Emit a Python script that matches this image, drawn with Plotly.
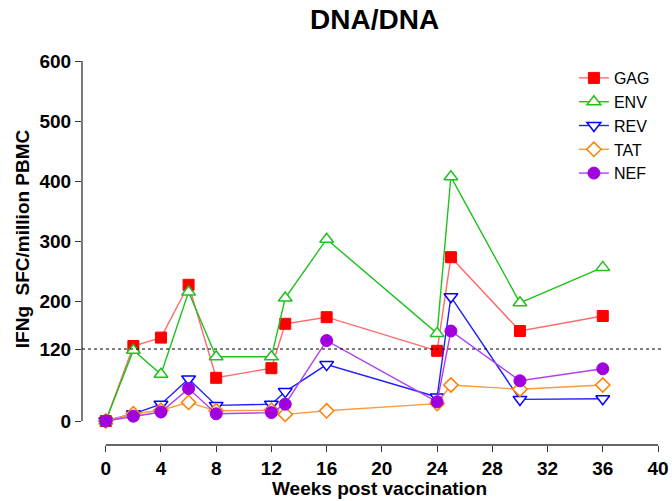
import plotly.graph_objects as go

weeks = [0, 2, 4, 6, 8, 12, 13, 16, 24, 25, 30, 36]
gag = [0, 125, 139, 227, 72, 88, 162, 173, 117, 273, 150, 175]
env = [0, 118, 78, 215, 107, 107, 205, 303, 146, 407, 197, 256]
rev = [0, 12, 28, 70, 26, 28, 49, 94, 40, 207, 36, 37]
tat = [0, 12, 18, 31, 17, 18, 11, 17, 29, 60, 53, 60]
nef = [0, 8, 15, 54, 12, 14, 28, 134, 32, 150, 67, 87]

x_ticks = [0, 4, 8, 12, 16, 20, 24, 28, 32, 36, 40]
y_ticks = [0, 120, 200, 300, 400, 500, 600]
threshold = 120

series = [
    ("GAG", gag, "#FF6A6A", dict(symbol="square", color="#FF0000", size=11,
                                  line=dict(color="#FF0000", width=1))),
    ("ENV", env, "#1DC21D", dict(symbol="triangle-up", color="white", size=12,
                                  line=dict(color="#1DC21D", width=1.5))),
    ("REV", rev, "#2020FF", dict(symbol="triangle-down", color="white", size=12,
                                  line=dict(color="#0000FF", width=1.5))),
    ("TAT", tat, "#FF9A40", dict(symbol="diamond", color="white", size=11,
                                  line=dict(color="#FF7F00", width=1.5))),
    ("NEF", nef, "#B040EE", dict(symbol="circle", color="#A000E0", size=12,
                                  line=dict(color="#A000E0", width=1))),
]

fig = go.Figure()
for name, vals, lc, mk in series:
    fig.add_trace(go.Scatter(x=weeks, y=vals, name=name, mode="lines+markers",
                             line=dict(color=lc, width=1.4), marker=mk))

font_family = "Liberation Sans, Arial, sans-serif"

fig.update_layout(
    width=672, height=501,
    margin=dict(l=82, r=14, t=61, b=56, autoexpand=False),
    plot_bgcolor="white", paper_bgcolor="white",
    font=dict(family=font_family, color="black"),
    showlegend=True,
    legend=dict(x=0.854, y=1.0, xanchor="left", yanchor="top",
                font=dict(size=16, family=font_family, color="black"),
                bgcolor="rgba(0,0,0,0)", itemwidth=30, tracegroupgap=0),
    xaxis=dict(range=[-1.72, 40], tickvals=x_ticks, ticks="outside", ticklen=6,
               tickwidth=1.2, tickcolor="#333", showgrid=False, zeroline=False,
               showline=False, automargin=False,
               tickfont=dict(size=19, family=font_family, color="black", weight="bold")),
    yaxis=dict(range=[-40, 600], tickvals=y_ticks, ticks="outside", ticklen=6,
               tickwidth=1.2, tickcolor="#333", showgrid=False, zeroline=False,
               showline=False, automargin=False,
               tickfont=dict(size=19, family=font_family, color="black", weight="bold")),
)

# offset axis lines (GraphPad style)
fig.add_shape(type="line", xref="paper", yref="y", x0=0, x1=0, y0=0, y1=600,
              line=dict(color="#333", width=1.3))
fig.add_shape(type="line", xref="x", yref="paper", x0=0, x1=40, y0=0, y1=0,
              line=dict(color="#333", width=1.3))
# threshold dotted line
fig.add_shape(type="line", xref="paper", yref="y", x0=0, x1=1.01, y0=threshold, y1=threshold,
              line=dict(color="black", width=1, dash="dot"))

fig.add_annotation(text="<b>DNA/DNA</b>", xref="paper", yref="paper", x=0.508, y=1.0,
                   xanchor="center", yanchor="middle", yshift=42, showarrow=False,
                   font=dict(size=28, family=font_family))
fig.add_annotation(text="<b>Weeks post vaccination</b>", xref="paper", yref="paper",
                   x=0.517, y=0, xanchor="center", yanchor="middle", yshift=-43,
                   showarrow=False, font=dict(size=19, family=font_family))
fig.add_annotation(text="<b>IFNg\u00a0\u00a0SFC/million PBMC</b>", xref="paper", yref="paper",
                   x=0, xshift=-60, y=0.536, xanchor="center", yanchor="middle",
                   textangle=-90, showarrow=False,
                   font=dict(size=19, family=font_family))

fig.write_html("out.html", config={"displayModeBar": False},
               post_script="document.body.style.margin='0';")
